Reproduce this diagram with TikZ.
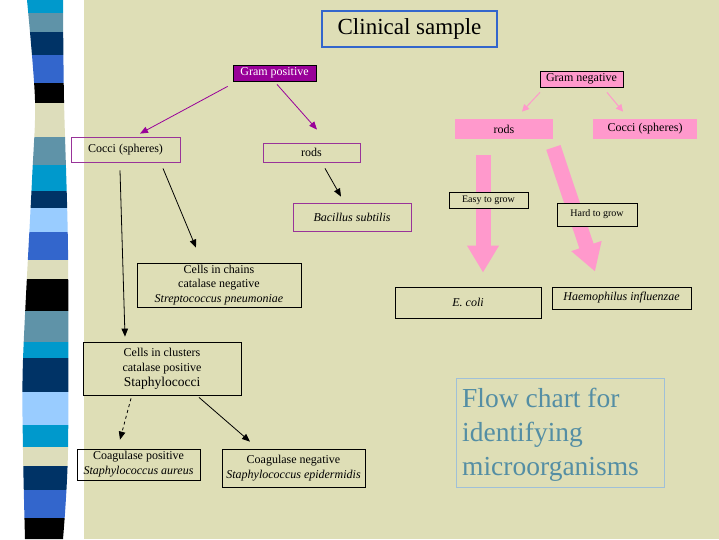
\documentclass[tikz,border=0pt]{standalone}
\usepackage{fontspec}
\setmainfont{Liberation Serif}
\usetikzlibrary{arrows.meta,calc}
\definecolor{bg}{RGB}{222,222,182}
\definecolor{scyan}{RGB}{0,153,204}
\definecolor{sgray}{RGB}{95,147,168}
\definecolor{snavy}{RGB}{0,51,102}
\definecolor{sroyal}{RGB}{51,102,204}
\definecolor{slight}{RGB}{153,204,255}
\definecolor{sbeige}{RGB}{221,221,187}
\definecolor{purp}{RGB}{153,0,153}
\definecolor{purpline}{RGB}{153,51,153}
\definecolor{pinkc}{RGB}{255,153,204}
\definecolor{clinblue}{RGB}{51,102,204}
\definecolor{flowtext}{RGB}{84,142,164}
\definecolor{flowline}{RGB}{160,192,216}
\tikzset{
  box/.style={draw, inner sep=0pt, align=center, font=\fontsize{12}{14.8}\selectfont, line width=0.8pt},
  pbox/.style={box, draw=purpline},
  pinkbox/.style={box, draw=none, fill=pinkc},
  arr/.style={line width=0.8pt, -{Triangle[length=8pt,width=6.5pt]}},
  parr/.style={arr, draw=purp, -{Triangle[length=8pt,width=6.5pt]}},
  pkarr/.style={draw=pinkc, line width=1pt, -{Triangle[length=7pt,width=7pt]}},
  bigarr/.style={draw=pinkc, line width=15pt, -{Triangle[length=27pt,width=30pt]}},
}
\begin{document}
\begin{tikzpicture}[x=1pt,y=-1pt]
\useasboundingbox (0,0) rectangle (719,539);
\fill[white] (0,0) rectangle (84,539);
\fill[bg] (84,0) rectangle (719,539);
% striped bar
\begin{scope}
\clip plot[smooth] coordinates {(27,0) (35,100) (32,180) (23,360) (23,450) (25,539)}
  -- plot[smooth] coordinates {(63,539) (68,450) (68,250) (64,100) (63,0)} -- cycle;
\foreach \ya/\yb/\c in {0/13/scyan,13/32/sgray,32/55/snavy,55/83/sroyal,83/103/black,
  103/137/sbeige,137/165/sgray,165/191/scyan,191/208/snavy,208/232/slight,232/260/sroyal,
  260/279/sbeige,279/311/black,311/342/sgray,342/358/scyan,358/392/snavy,392/425/slight,
  425/447/scyan,447/466/sbeige,466/490/snavy,490/518/sroyal,518/540/black}
  \fill[\c] (0,\ya) rectangle (90,\yb);
\end{scope}

% nodes
\node[box, draw=clinblue, line width=2pt, minimum width=175pt, minimum height=36pt,
  font=\fontsize{23}{26}\selectfont] (clin) at (409.5,29) {\raisebox{-2pt}{Clinical sample}};
\node[box, fill=purp, text=white, minimum width=83pt, minimum height=16pt] (gpos) at (274.5,73) {Gram positive};
\node[box, fill=pinkc, minimum width=83pt, minimum height=16pt] (gneg) at (581.5,79) {Gram negative};
\node[pbox, minimum width=97pt, minimum height=19pt] (rodsP) at (311.5,152.5) {rods};
\node[pbox, minimum width=109pt, minimum height=25pt] (cocP) at (125.5,149.5) {Cocci (spheres)};
\node[pbox, minimum width=118pt, minimum height=28pt] (bac) at (352,217) {\itshape Bacillus subtilis};
\node[box, minimum width=164pt, minimum height=44pt] (chains) at (219,285)
  {Cells in chains\\catalase negative\\\itshape Streptococcus pneumoniae};
\node[box, minimum width=158pt, minimum height=53pt] (clusters) at (162,368.5)
  {Cells in clusters\\catalase positive\\{\fontsize{13.5}{15}\selectfont Staphylococci}};
\node[box, minimum width=123pt, minimum height=31pt] (coagP) at (138.5,464.5)
  {Coagulase positive\\\itshape Staphylococcus aureus};
\node[box, minimum width=143pt, minimum height=38pt] (coagN) at (293.5,468)
  {Coagulase negative\\\itshape Staphylococcus epidermidis};
\node[pinkbox, minimum width=98pt, minimum height=20pt] (rodsN) at (504,129) {rods};
\node[pinkbox, minimum width=104pt, minimum height=20pt] (cocN) at (645,129) {Cocci (spheres)};
\node[box, minimum width=146pt, minimum height=31pt] (ecoli) at (468,302.5) {\itshape E. coli};
\node[box, minimum width=139pt, minimum height=22pt] (haem) at (621.5,298) {\itshape Haemophilus influenzae};

% big pink arrows
\draw[bigarr] ($(rodsN.south)+(-21,16)$) -- ($(ecoli.north)+(15,-14)$);
\draw[bigarr] ($(rodsN.south east)+(0,8)$) -- ($(haem.north)+(-26.5,-15)$);

\node[box, fill=bg, minimum width=79pt, minimum height=16pt, font=\fontsize{10}{12}\selectfont] (easy) at (488.5,200) {Easy to grow};
\node[box, fill=bg, minimum width=80pt, minimum height=23pt, font=\fontsize{10}{12}\selectfont] (hard) at (597,214.5) {Hard to grow};

\node[draw=flowline, line width=0.8pt, minimum width=208pt, minimum height=109pt, inner sep=0pt] (flow) at (560,432.5) {};
\node[anchor=north west, inner sep=0pt, align=left, text=flowtext,
  font=\fontsize{27.5}{34}\selectfont] (flowtxt) at (462,388) {Flow chart for\\identifying\\microorganisms};

% connectors
\draw[parr] ($(gpos.south west)+(-5,5)$) -- ($(cocP.north)+(14.5,-3)$);
\draw[parr] ($(gpos.south)+(2.5,3)$) -- ($(rodsP.north)+(5.5,-13)$);
\draw[arr] ($(rodsP.south)+(13.5,6)$) -- ($(bac.north)+(-11,-6)$);
\draw[arr] ($(cocP.south)+(37.5,6)$) -- ($(chains.north)+(-23,-15)$);
\draw[arr] ($(cocP.south)+(-5.5,8)$) -- ($(clusters.north)+(-37,-5)$);
\draw[arr, dashed] ($(clusters.south)+(-31,3)$) -- ($(coagP.north)+(-18.5,-9)$);
\draw[arr] ($(clusters.south)+(37,2)$) -- ($(coagN.north)+(-43.5,-7)$);
\draw[pkarr] ($(gneg.south)+(-41.5,5)$) -- ($(rodsN.north)+(18,-7)$);
\draw[pkarr] ($(gneg.south)+(25.5,5)$) -- ($(cocN.north)+(-22,-7)$);
\end{tikzpicture}
\end{document}
